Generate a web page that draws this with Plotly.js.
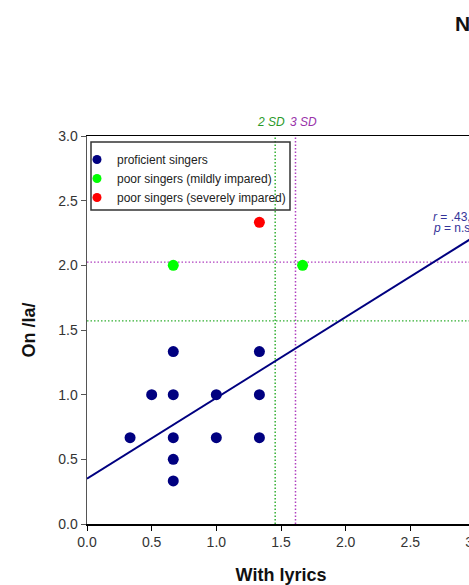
<!DOCTYPE html>
<html>
<head>
<meta charset="utf-8">
<script src="https://cdn.plot.ly/plotly-3.0.1.min.js"></script>
<style>
html,body{margin:0;padding:0;overflow:hidden;background:#fff;width:469px;height:585px;}
#chart{width:500px;height:585px;}
</style>
</head>
<body>
<div id="chart"></div>
<script>
// Data
const proficientX = [0.333, 0.5, 0.667, 0.667, 0.667, 0.667, 0.667, 1.0, 1.0, 1.333, 1.333, 1.333];
const proficientY = [0.667, 1.0, 1.0, 1.333, 0.667, 0.5, 0.333, 1.0, 0.667, 1.333, 1.0, 0.667];
const mildX = [0.667, 1.667];
const mildY = [2.0, 2.0];
const severeX = [1.333];
const severeY = [2.333];
const fitX = [0, 3.0];
const fitY = [0.35, 2.225];
const sd2X = 1.455, sd3X = 1.612;   // cut-offs on x
const sd2Y = 1.57, sd3Y = 2.025;    // cut-offs on y
const xTicks = [0, 0.5, 1.0, 1.5, 2.0, 2.5, 3.0];
const yTicks = [0, 0.5, 1.0, 1.5, 2.0, 2.5, 3.0];
const seriesNames = ['proficient singers', 'poor singers (mildly impared)', 'poor singers (severely impared)'];

const navy = '#000080';
const green = '#33b033';
const purple = '#b040c0';
const FONT = 'Arial, "Liberation Sans", sans-serif';
const dotStyle = '1.5px,2px';

const traces = [
  {x: [sd2X, sd2X], y: [0, 3], mode: 'lines', line: {color: green, width: 1.5, dash: dotStyle}, showlegend: false, hoverinfo: 'skip'},
  {x: [sd3X, sd3X], y: [0, 3], mode: 'lines', line: {color: purple, width: 1.5, dash: dotStyle}, showlegend: false, hoverinfo: 'skip'},
  {x: [0, 3], y: [sd2Y, sd2Y], mode: 'lines', line: {color: green, width: 1.2, dash: dotStyle}, showlegend: false, hoverinfo: 'skip'},
  {x: [0, 3], y: [sd3Y, sd3Y], mode: 'lines', line: {color: purple, width: 1.2, dash: dotStyle}, showlegend: false, hoverinfo: 'skip'},
  {x: fitX, y: fitY, mode: 'lines', line: {color: navy, width: 2}, showlegend: false, hoverinfo: 'skip'},
  {x: proficientX, y: proficientY, mode: 'markers', name: seriesNames[0], marker: {color: navy, size: 11}, showlegend: false},
  {x: mildX, y: mildY, mode: 'markers', name: seriesNames[1], marker: {color: '#00ff00', size: 11}, showlegend: false},
  {x: severeX, y: severeY, mode: 'markers', name: seriesNames[2], marker: {color: '#ff0000', size: 11}, showlegend: false},
  // legend-only entries (smaller symbols, as in the reference)
  {x: [null], y: [null], mode: 'markers', name: seriesNames[0], marker: {color: navy, size: 9}},
  {x: [null], y: [null], mode: 'markers', name: seriesNames[1], marker: {color: '#00ff00', size: 9}},
  {x: [null], y: [null], mode: 'markers', name: seriesNames[2], marker: {color: '#ff0000', size: 9}}
];

// plot area: left 87px, width 388px; top 136px, height 388px
const px2x = p => (p - 87) / 388;
const px2y = p => 1 - (p - 136) / 388;

const layout = {
  width: 500, height: 585,
  margin: {l: 87, r: 25, t: 136, b: 61},
  paper_bgcolor: '#fff', plot_bgcolor: '#fff',
  font: {family: FONT, size: 13, color: '#222'},
  showlegend: true,
  legend: {
    x: px2x(77), y: px2y(145), xanchor: 'left', yanchor: 'top',
    bgcolor: 'rgba(0,0,0,0)', borderwidth: 0,
    font: {family: FONT, size: 12, color: '#222'},
    itemsizing: 'trace', tracegroupgap: 0
  },
  shapes: [
    {type: 'rect', xref: 'paper', yref: 'paper', x0: px2x(91), x1: px2x(290), y0: px2y(210), y1: px2y(142),
     line: {color: '#333', width: 1.5}, fillcolor: 'rgba(255,255,255,0)', layer: 'above'}
  ],
  xaxis: {
    range: [0, 3], tickvals: xTicks, ticktext: xTicks.map(v => v.toFixed(1)),
    showgrid: false, zeroline: false, showline: true, linecolor: '#000', linewidth: 1.5,
    mirror: true, ticks: 'outside', ticklen: 5, tickcolor: '#000',
    tickfont: {family: FONT, size: 14, color: '#333'},
    title: {text: 'With lyrics', font: {family: FONT, size: 18, color: '#111', weight: 'bold'}, standoff: 26}
  },
  yaxis: {
    range: [0, 3], tickvals: yTicks, ticktext: yTicks.map(v => v.toFixed(1)),
    showgrid: false, zeroline: false, showline: true, linecolor: '#555', linewidth: 1.5,
    ticks: 'outside', ticklen: 5, tickcolor: '#555',
    tickfont: {family: FONT, size: 14, color: '#333'},
    title: {text: 'On /la/', font: {family: FONT, size: 18, color: '#111', weight: 'bold'}, standoff: 18}
  },
  annotations: [
    {xref: 'x', yref: 'paper', x: sd2X - 0.03, y: 1.036, text: '<i>2 SD</i>', showarrow: false,
     font: {family: FONT, size: 12, color: '#2a9a2a'}, xanchor: 'center', yanchor: 'middle'},
    {xref: 'x', yref: 'paper', x: sd3X + 0.06, y: 1.036, text: '<i>3 SD</i>', showarrow: false,
     font: {family: FONT, size: 12, color: '#9933aa'}, xanchor: 'center', yanchor: 'middle'},
    {xref: 'paper', yref: 'paper', x: 0.887, y: 0.792, text: '<i>r</i> = .43,', showarrow: false,
     font: {family: FONT, size: 12, color: '#333399'}, xanchor: 'left', yanchor: 'middle'},
    {xref: 'paper', yref: 'paper', x: 0.887, y: 0.762, text: '<i>p</i> = n.s.', showarrow: false,
     font: {family: FONT, size: 12, color: '#333399'}, xanchor: 'left', yanchor: 'middle'},
    {xref: 'paper', yref: 'paper', x: 0.943, y: 1.291, text: '<b>N</b>', showarrow: false,
     font: {family: FONT, size: 21, color: '#111'}, xanchor: 'left', yanchor: 'middle'}
  ]
};

Plotly.newPlot('chart', traces, layout, {displayModeBar: false, staticPlot: true});
</script>
</body>
</html>
